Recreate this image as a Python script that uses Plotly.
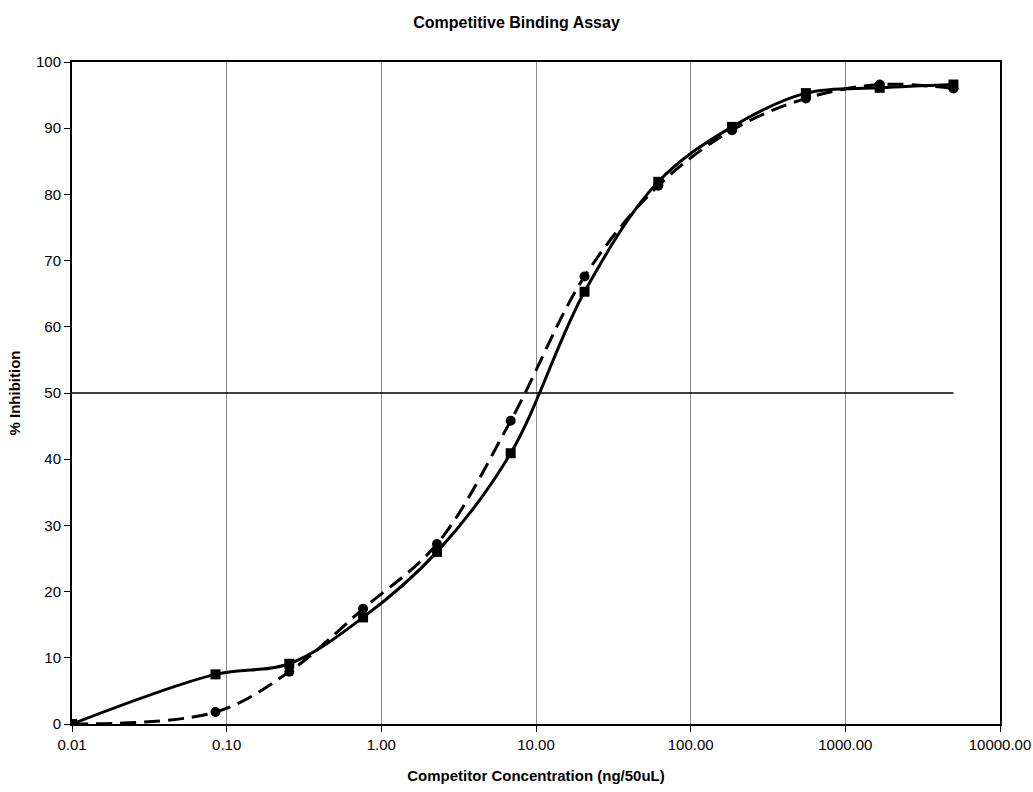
import plotly.graph_objects as go

# Competitor concentration (ng/50uL); zero competitor plotted at 0.01
concentration = [0.01, 0.0847, 0.254, 0.762, 2.29, 6.86, 20.6, 61.7, 185.0, 556.0, 1667.0, 5000.0]
inhibition_squares = [0.0, 7.5, 9.1, 16.1, 26.0, 40.9, 65.3, 81.9, 90.2, 95.3, 96.1, 96.6]
inhibition_circles = [0.0, 1.8, 7.9, 17.4, 27.2, 45.8, 67.6, 81.3, 89.7, 94.5, 96.6, 96.0]
half_line_x = [0.01, 5000.0]
half_line_y = [50, 50]

x_tickvals = [0.01, 0.1, 1, 10, 100, 1000, 10000]
x_ticktext = ["0.01", "0.10", "1.00", "10.00", "100.00", "1000.00", "10000.00"]
y_tickvals = [0, 10, 20, 30, 40, 50, 60, 70, 80, 90, 100]

narrow = "Liberation Sans Narrow, Arial Narrow, Liberation Sans, Arial, sans-serif"
regular = "Liberation Sans, Arial, sans-serif"

W, H = 1033, 792

fig = go.Figure()
fig.add_trace(go.Scatter(x=half_line_x, y=half_line_y, mode="lines",
                         line=dict(color="black", width=1.5), hoverinfo="skip", showlegend=False))
fig.add_trace(go.Scatter(x=concentration, y=inhibition_circles, mode="lines+markers",
                         line=dict(color="black", width=3, dash="16px,8px", shape="spline", smoothing=1),
                         marker=dict(symbol="circle", size=10, color="black"), showlegend=False))
fig.add_trace(go.Scatter(x=concentration, y=inhibition_squares, mode="lines+markers",
                         line=dict(color="black", width=3, shape="spline", smoothing=1),
                         marker=dict(symbol="square", size=10, color="black"), showlegend=False))

fig.update_layout(
    width=W, height=H,
    margin=dict(l=72, r=33, t=62, b=68),
    paper_bgcolor="white", plot_bgcolor="white",
    title=dict(text="<b>Competitive Binding Assay</b>", x=0.5, xref="container", xanchor="center",
               y=1 - 22 / H, yref="container", yanchor="middle",
               font=dict(family=narrow, size=16, color="black")),
    xaxis=dict(type="log", range=[-2, 4], tickvals=x_tickvals, ticktext=x_ticktext,
               automargin=False,
               showgrid=True, gridcolor="#8c8c8c", gridwidth=1,
               showline=True, linecolor="black", linewidth=2, mirror=True,
               ticks="outside", ticklen=6, tickcolor="black", tickwidth=1,
               tickfont=dict(family=regular, size=15, color="black"),
               title=dict(text="<b>Competitor Concentration (ng/50uL)</b>", standoff=18,
                          font=dict(family=narrow, size=15, color="black")),
               zeroline=False),
    yaxis=dict(range=[0, 100], tickvals=y_tickvals, showgrid=False,
               automargin=False,
               showline=True, linecolor="black", linewidth=2, mirror=True,
               ticks="outside", ticklen=6, tickcolor="black", tickwidth=1,
               tickfont=dict(family=regular, size=15, color="black"),
               title=dict(text="<b>% Inhibition</b>", standoff=12,
                          font=dict(family=narrow, size=15, color="black")),
               zeroline=False),
)

fig.write_html("out.html",
               config={"displayModeBar": False},
               post_script="document.body.style.margin='0';document.body.style.overflow='hidden';")
